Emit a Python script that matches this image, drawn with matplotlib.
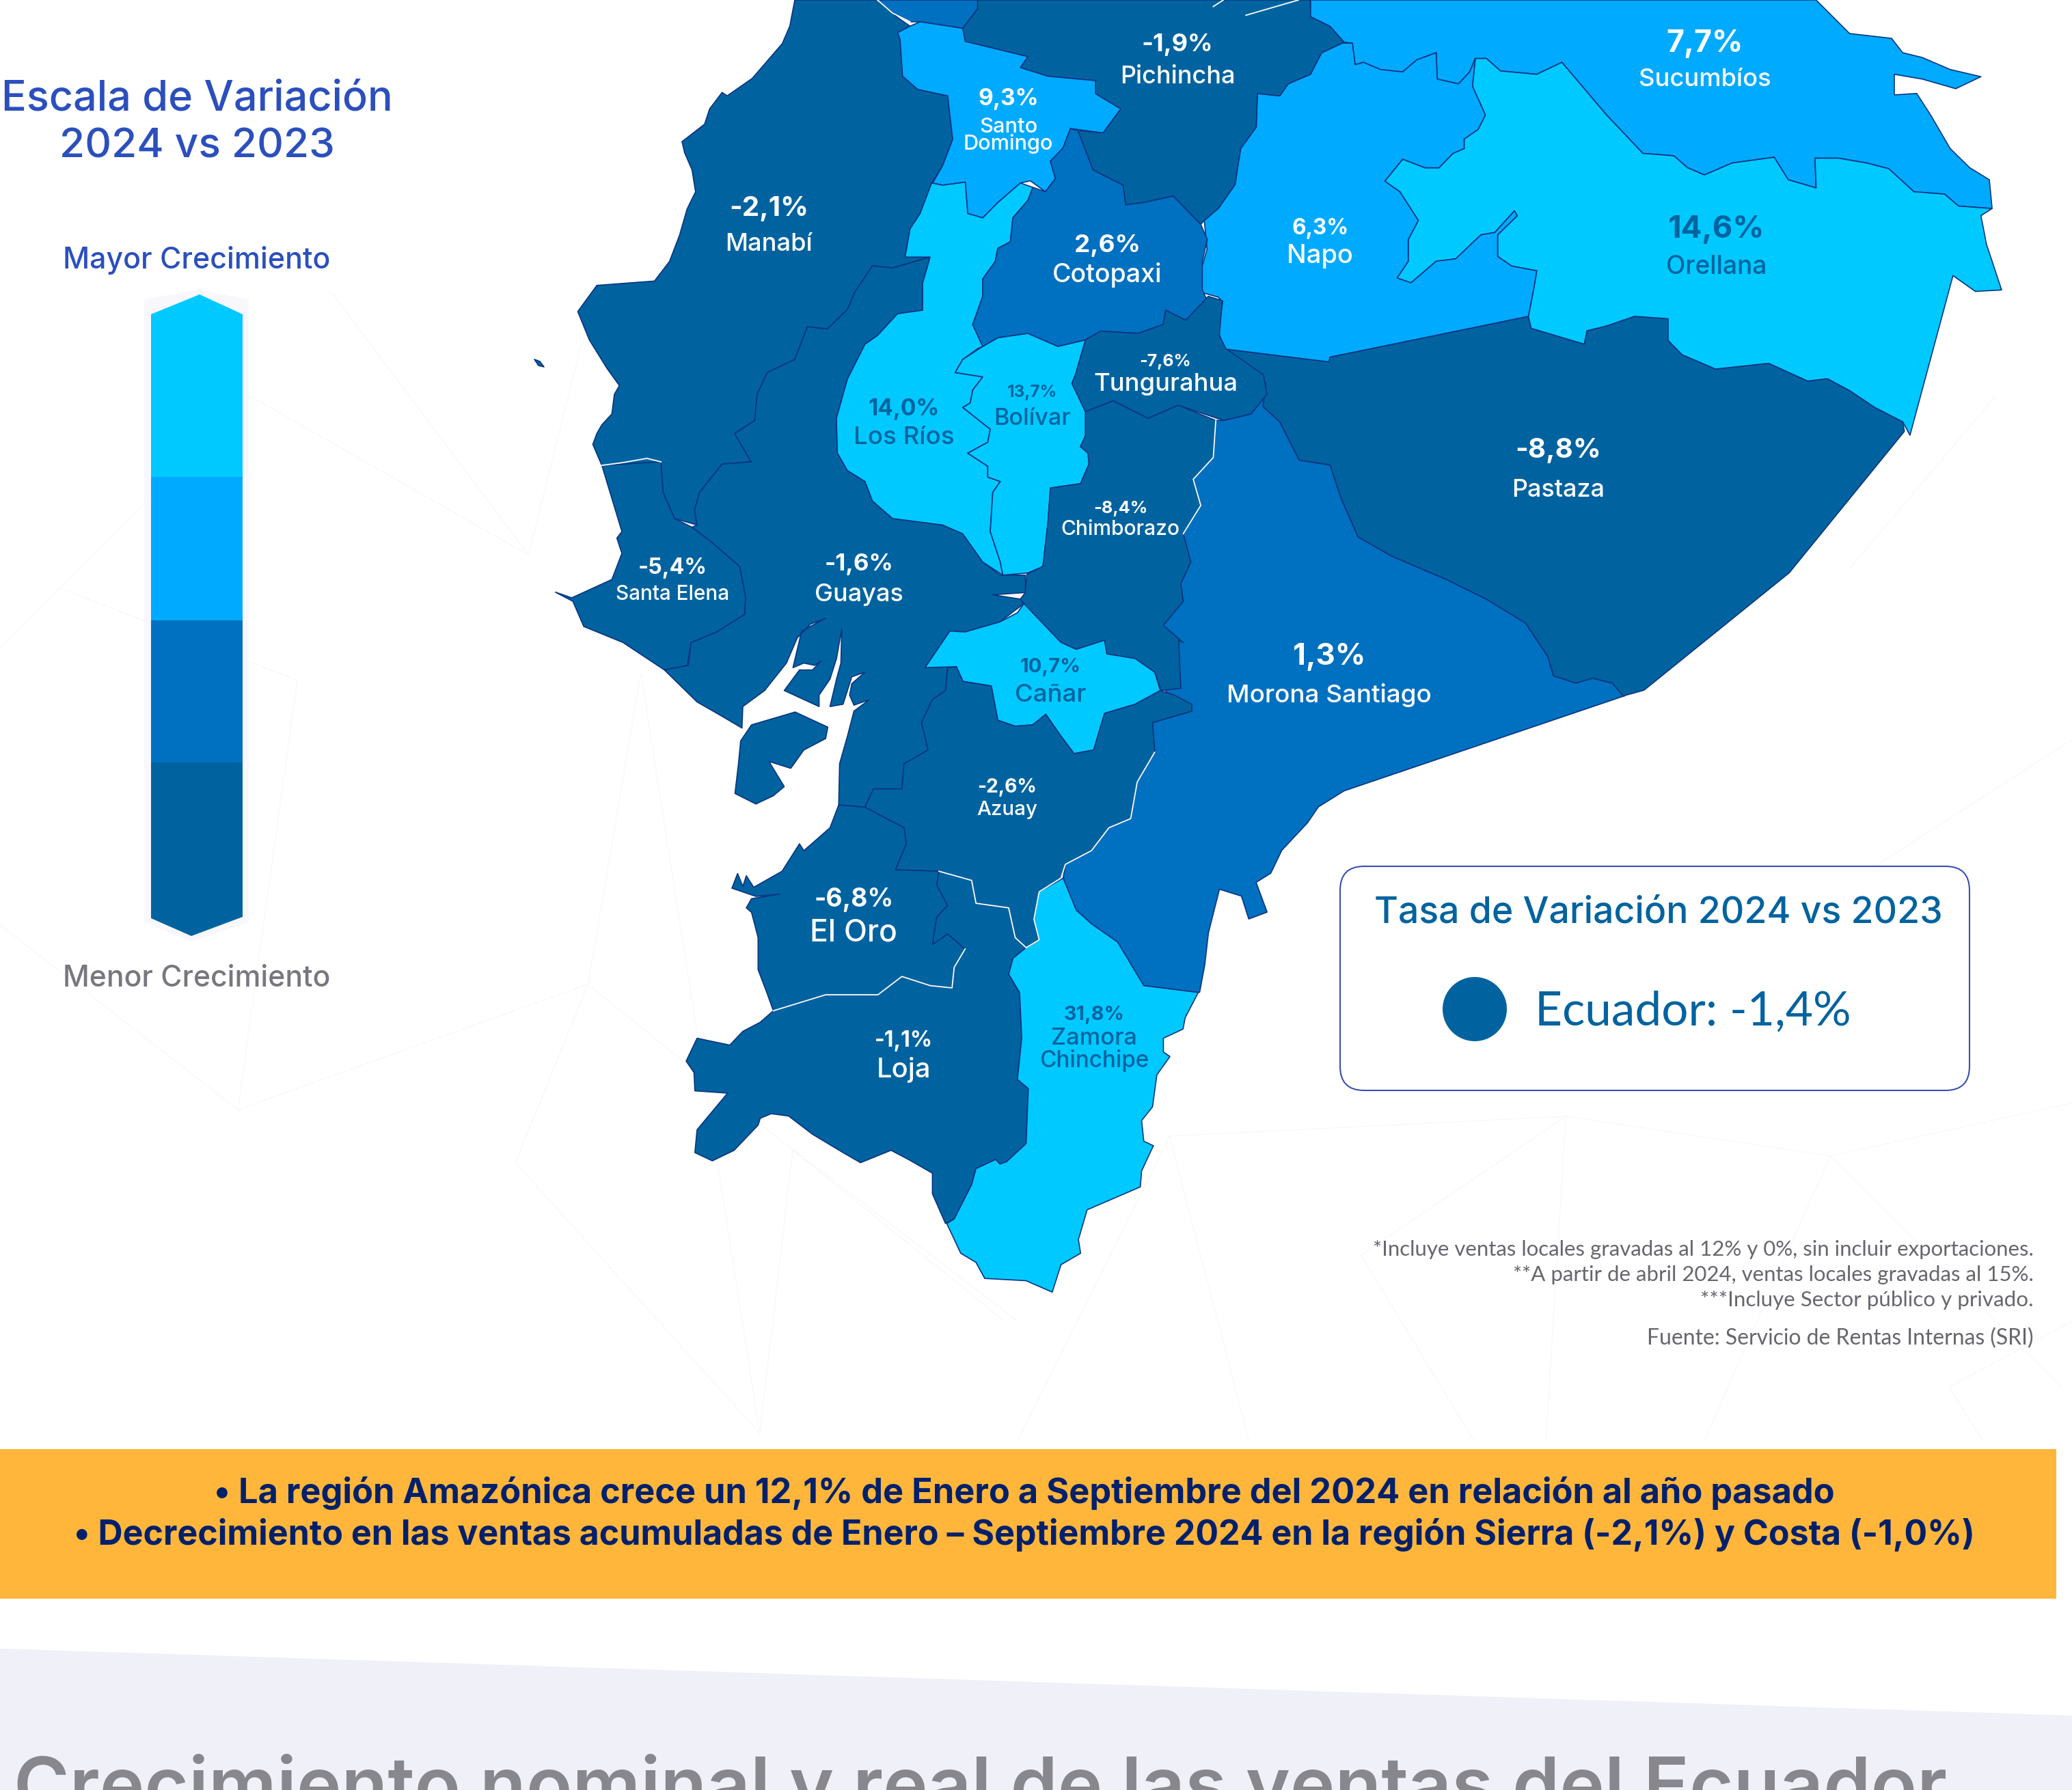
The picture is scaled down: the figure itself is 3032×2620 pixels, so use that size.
import matplotlib
matplotlib.use("Agg")
import matplotlib.pyplot as plt
from matplotlib.patches import Polygon, FancyBboxPatch, Circle

# ---------- data ----------
PROVINCES = ["Sucumbíos", "Orellana", "Pichincha", "Santo\nDomingo", "Manabí", "Cotopaxi", "Napo",
             "Tungurahua", "Los Ríos", "Bolívar", "Pastaza", "Chimborazo", "Santa Elena", "Guayas",
             "Morona Santiago", "Cañar", "Azuay", "El Oro", "Loja", "Zamora\nChinchipe"]
VALUES = [7.7, 14.6, -1.9, 9.3, -2.1, 2.6, 6.3, -7.6, 14.0, 13.7, -8.8, -8.4, -5.4, -1.6, 1.3,
          10.7, -2.6, -6.8, -1.1, 31.8]
NATIONAL = -1.4
SCALE_COLORS = ["#00c9ff", "#00aaff", "#0070c0", "#00639f"]
BORDER = "#0b3480"

def Z1(p): return [(800 + x * 1150 / 1568, y * 1000 / 1568) for x, y in p]
def Z2(p): return [(1750 + x * 1282 / 1568, y * 1100 / 1568) for x, y in p]
def Z3(p): return [(800 + x * 1000 / 1568, 850 + y * 1050 / 1568) for x, y in p]
def Z5(p): return [(1350 + x * 1682 / 1568, 950 + y * 1050 / 1568) for x, y in p]

OUTLINES = {
 "Morona Santiago": Z2([(120,848),(150,880),(185,960),(240,970),(260,1040),(290,1120),(350,1160),(450,1210),(520,1250),(590,1300),(630,1370),(640,1410),(680,1425),(710,1415),(745,1425),(765,1452)])
   + Z5([(958,102),(575,310),(540,345),(525,380),(490,440),(475,490),(455,510),(470,575),(445,590),(435,540),(405,525),(390,620),(385,690),(378,750)])
   + Z3([(1495,900),(1370,885),(1310,790),(1250,750),(1215,720),(1185,650),(1190,620),(1250,590),(1290,540),(1340,520),(1355,440),(1395,375),(1390,310),(1480,285),(1430,255),(1420,240),(1400,235),(1400,130)])
   + Z1([(1230,1435),(1270,1380),(1265,1340),(1285,1290),(1270,1225),(1305,1160),(1290,1100),(1330,1050),(1335,965),(1350,965),(1405,950),(1437,905)]),
 "Pastaza": Z2([(50,728),(238,755),(240,745),(595,660),(600,685),(695,718),(700,690),(735,680),(785,660),(845,665),(845,710),(870,740),(930,770),(1025,758),(1095,795),(1130,790),(1170,815),(1215,850),(1265,880),(1268,900),(1062,1195),(802,1440),(765,1452),(745,1425),(710,1415),(680,1425),(640,1410),(630,1370),(590,1300),(520,1250),(450,1210),(350,1160),(290,1120),(260,1040),(240,970),(185,960),(150,880),(120,848),(125,800),(85,760)]),
 "Sucumbíos": Z2([(205,0),(205,35),(240,55),(265,88),(280,90),(285,135),(300,130),(330,145),(370,150),(395,125),(430,110),(432,165),(470,175),(490,150),(500,122),(520,122),(545,148),(610,155),(655,130),(735,240),(800,320),(855,325),(880,350),(910,365),(960,340),(1035,328),(1060,375),(1110,392),(1108,330),(1150,330),(1200,340),(1240,352),(1285,400),(1340,405),(1365,430),(1425,435),(1420,375),(1385,350),(1350,310),(1315,240),(1290,195),(1250,198),(1250,155),(1300,165),(1360,185),(1405,160),(1350,145),(1300,120),(1265,110),(1245,80),(1170,70),(1110,0)]),
 "Orellana": Z2([(500,122),(520,122),(545,148),(610,155),(655,130),(735,240),(800,320),(855,325),(880,350),(910,365),(960,340),(1035,328),(1060,375),(1110,392),(1108,330),(1150,330),(1200,340),(1240,352),(1285,400),(1340,405),(1365,430),(1425,435),(1405,450),(1415,510),(1425,545),(1442,605),(1395,608),(1355,575),(1278,908),(1265,880),(1215,850),(1170,815),(1130,790),(1095,795),(1025,758),(930,770),(870,740),(845,710),(845,665),(785,660),(735,680),(700,690),(695,718),(600,685),(595,660),(605,600),(610,565),(565,555),(540,535),(540,490),(575,450),(570,440),(535,485),(510,490),(465,540),(430,545),(385,590),(360,580),(380,545),(380,500),(398,460),(365,400),(338,378),(370,332),(410,350),(435,350),(460,320),(480,310),(480,290),(505,270),(518,240),(495,180)]),
 "Napo": Z2([(110,195),(150,200),(165,175),(205,155),(225,110),(262,90),(280,90),(285,135),(300,130),(330,145),(370,150),(395,125),(430,110),(432,165),(470,175),(490,150),(500,122),(495,180),(518,240),(505,270),(480,290),(480,310),(460,320),(435,350),(410,350),(370,332),(338,378),(365,400),(398,460),(380,500),(380,545),(360,580),(385,590),(430,545),(465,540),(510,490),(535,485),(570,440),(575,450),(540,490),(540,535),(565,555),(610,565),(605,600),(595,660),(240,745),(238,755),(50,728),(40,690),(48,630),(40,620),(10,610),(10,560),(20,520),(15,460),(40,435),(70,385),(80,310),(108,265)]),
 "Top": Z1([(660,0),(690,30),(725,50),(745,50),(830,65),(860,20),(860,0)]),
 "Pichincha": Z1([(860,0),(860,20),(830,65),(835,95),(960,130),(945,155),(1000,175),(1095,185),(1095,215),(1145,250),(1110,305),(1060,300),(1090,390),(1150,425),(1155,470),(1190,465),(1250,450),(1305,515)])
   + Z2([(15,460),(40,435),(70,385),(80,310),(108,265),(110,195),(150,200),(165,175),(205,155),(225,110),(265,88),(240,55),(205,35),(205,0)]),
 "Manabí": Z1([(495,0),(485,60),(470,100),(440,140),(410,180),(360,220),(350,212),(325,250),(315,285),(270,325),(275,350),(290,390),(297,440),(280,480),(265,540),(245,600),(215,645),(100,655),(62,715),(85,780),(120,845),(145,885),(135,905),(130,950),(110,975),(100,995),(92,1020),(110,1068),(228,1060),(232,1130),(255,1190),(300,1205),(295,1170),(305,1130),(350,1065),(408,1060),(375,995),(415,965),(420,905),(440,855),(495,825),(520,750),(560,755),(600,710),(615,670),(650,610),(690,615),(765,590),(715,590),(725,525),(745,490),(768,420),(790,380),(810,320),(800,220),(740,205),(710,175),(705,90),(725,60),(700,40),(660,0)]),
 "Santa Elena": Z1([(110,1068),(228,1060),(232,1130),(255,1190),(290,1210),(330,1245),(385,1300),(397,1370),(395,1410),(340,1450),(288,1475),(280,1530)])
   + Z3([(325,185),(270,195),(175,135),(85,100),(60,45),(20,25)])
   + Z1([(50,1372),(130,1330),(150,1270),(140,1235),(150,1220)]),
 "Guayas": Z1([(765,590),(750,650),(750,712),(700,720),(660,770),(635,790),(600,870),(578,960),(580,1040),(600,1080),(635,1105),(650,1150),(690,1190),(790,1205),(830,1225),(870,1290),(905,1320),(955,1320),(955,1360),(890,1365),(945,1375)])
   + Z3([(1095,50),(1040,90),(960,112),(925,110),(868,190),(940,188),(920,190),(915,240),(885,260),(860,310),(875,370),(820,400),(815,455),(750,455),(730,495),(670,490),(672,400),(690,340),(705,285),(740,260),(705,272),(695,250),(700,225),(730,200),(700,210),(680,270),(650,275),(665,215),(675,180),(677,105),(665,170),(650,215),(625,250),(625,275),(545,240),(580,195),(610,195),(630,175),(615,185),(590,180),(565,190),(585,110),(640,82),(605,95),(575,125),(550,180),(500,240),(450,275),(448,322),(400,295),(345,265),(270,195),(325,185)])
   + Z1([(288,1475),(340,1450),(395,1410),(397,1370),(385,1300),(330,1245),(290,1210),(300,1205),(295,1170),(305,1130),(350,1065),(408,1060),(375,995),(415,965),(420,905),(440,855),(495,825),(520,750),(560,755),(600,710),(615,670),(650,610),(690,615)]),
 "Puná": Z3([(445,350),(470,315),(570,287),(645,320),(640,345),(590,370),(560,410),(510,395),(545,450),(520,470),(480,488),(432,465),(440,400)]),
 "Santo\nDomingo": Z1([(700,75),(725,60),(745,50),(830,65),(835,95),(960,130),(945,155),(1000,175),(1095,185),(1095,215),(1145,250),(1110,305),(1045,295),(1030,340),(1005,370),(1015,410),(995,440),(965,415),(945,420),(900,465),(870,500),(840,490),(835,418),(790,425),(770,420),(790,380),(810,320),(800,220),(740,205),(710,175),(705,90)]),
 "Los Ríos": Z1([(768,420),(790,425),(835,418),(840,490),(870,500),(900,465),(945,420),(970,430),(960,460),(930,500),(925,555),(900,570),(895,600),(870,640),(870,680),(850,745),(870,795),(860,800),(830,825),(815,855),(870,865),(850,895),(845,925),(830,935),(885,985),(880,1015),(840,1040),(880,1070),(880,1095),(905,1105),(890,1130),(885,1220),(905,1290),(910,1320),(870,1290),(830,1225),(790,1205),(690,1190),(650,1150),(635,1105),(600,1080),(580,1040),(578,960),(600,870),(635,790),(660,770),(700,720),(750,712),(750,650),(765,590),(715,590),(725,525),(745,490)]),
 "Bolívar": Z1([(870,795),(900,775),(960,765),(1020,795),(1075,780),(1055,860),(1048,880),(1075,945),(1075,1000),(1065,1025),(1080,1040),(1082,1065),(1065,1110),(1005,1120),(1000,1200),(990,1300),(960,1315),(910,1320),(905,1290),(885,1220),(890,1130),(905,1105),(880,1095),(880,1070),(840,1040),(880,1015),(885,985),(830,935),(845,925),(850,895),(870,865),(815,855),(830,825)]),
 "Cotopaxi": Z1([(1045,295),(1060,300),(1090,390),(1150,425),(1155,470),(1190,465),(1250,450),(1305,515),(1318,550),(1308,600),(1308,665),(1318,690),(1275,735),(1235,712),(1230,745),(1180,765),(1105,760),(1075,780),(1020,795),(960,765),(900,775),(870,795),(850,745),(870,680),(870,640),(895,600),(900,570),(925,555),(930,500),(960,460),(970,430),(995,440),(1015,410),(1005,370),(1030,340)]),
 "Tungurahua": Z1([(1075,780),(1105,760),(1180,765),(1230,745),(1235,712),(1275,735),(1320,680),(1348,690),(1342,770),(1355,800),(1430,860),(1437,905),(1405,950),(1350,965),(1260,930),(1200,960),(1130,920),(1075,945),(1048,880),(1055,860)]),
 "Chimborazo": Z1([(1075,945),(1130,920),(1200,960),(1260,930),(1335,965),(1330,1050),(1290,1100),(1305,1160),(1270,1225),(1285,1290),(1265,1340),(1270,1380),(1230,1435),(1270,1475)])
   + Z3([(1450,130),(1455,235),(1410,240),(1395,200),(1350,170),(1285,160),(1280,130),(1215,150),(1180,135),(1095,50)])
   + Z1([(945,1375),(955,1360),(958,1318),(990,1300),(1000,1200),(1005,1120),(1065,1110),(1082,1065),(1080,1040),(1065,1025),(1075,1000)]),
 "Cañar": Z3([(1095,50),(1180,135),(1215,150),(1280,130),(1285,160),(1350,170),(1395,200),(1408,240),(1350,270),(1280,290),(1255,370),(1210,378),(1180,340),(1145,292),(1115,315),(1075,318),(1035,305),(1020,230),(955,220),(940,188),(868,190),(925,110),(960,112),(1040,90),(1080,70)]),
 "Azuay": Z3([(940,188),(955,220),(1020,230),(1035,305),(1075,318),(1115,315),(1145,292),(1180,340),(1210,378),(1255,370),(1280,290),(1350,270),(1408,240),(1440,250),(1480,270),(1480,285),(1390,310),(1395,375),(1355,440),(1340,520),(1290,540),(1250,590),(1190,620),(1180,650),(1130,680),(1125,770),(1130,785),(1100,802),(1075,780),(1060,715),(985,705),(975,655),(900,635),(800,632),(825,575),(820,540),(730,495),(750,455),(815,455),(820,400),(875,370),(860,310),(885,260),(915,240),(920,190)]),
 "El Oro": Z3([(670,490),(730,495),(820,540),(825,575),(800,632),(900,635),(895,665),(920,710),(895,735),(885,795),(920,772),(960,805),(935,845),(930,890),(880,885),(815,865),(760,905),(640,905),(520,940),(505,900),(485,850),(485,780),(470,725),(458,715),(470,695),(535,685),(480,690),(425,672),(438,640),(450,668),(458,645),(475,670),(540,635),(580,575),(590,590),(650,540)]),
 "Loja": Z3([(520,940),(640,905),(760,905),(815,865),(880,885),(930,890),(935,845),(960,805),(920,772),(885,795),(895,735),(920,710),(895,665),(900,635),(975,655),(985,705),(1060,715),(1075,780),(1100,802),(1070,825),(1060,860),(1085,900),(1090,1000),(1080,1090),(1105,1110),(1100,1230),(1055,1270),(1040,1275),(1030,1265),(985,1285),(975,1320),(935,1395),(915,1405),(885,1340),(885,1295),(830,1265),(790,1245),(720,1272),(680,1250),(610,1210),(555,1170),(515,1165),(490,1175),(485,1190),(430,1245),(380,1268),(340,1250),(345,1200),(415,1120),(340,1115),(338,1075),(320,1050),(345,1000),(420,1015),(450,985),(490,965)]),
 "Zamora\nChinchipe": Z3([(1100,802),(1130,785),(1125,770),(1118,740),(1130,680),(1185,650),(1215,720),(1250,750),(1310,790),(1370,885),(1495,900),(1465,955),(1460,980),(1415,1000),(1415,1030),(1430,1040),(1400,1080),(1390,1150),(1365,1180),(1370,1225),(1392,1235),(1365,1290),(1362,1325),(1240,1375),(1220,1440),(1225,1470),(1180,1495),(1160,1555),(1100,1530),(1005,1525),(985,1490),(950,1470),(918,1405),(935,1395),(975,1320),(985,1285),(1030,1265),(1040,1275),(1055,1270),(1100,1230),(1105,1110),(1080,1090),(1090,1000),(1085,900),(1060,860),(1070,825)]),
 "Islet": [(782,526),(790,529),(796,537),(788,535)],
}
EXTRA_COLOR = {"Top": "#0070c0", "Puná": "#00639f", "Islet": "#00639f"}

WHITE_SEAMS = [
 Z3([(1395,375),(1355,440),(1340,520),(1290,540),(1250,590),(1190,620),(1180,650),(1130,680),(1118,740),(1130,785),(1100,802)]),
 Z3([(520,940),(640,905),(760,905),(815,865),(880,885),(930,890),(935,845),(960,805)]),
 Z3([(900,635),(975,655),(985,705),(1060,715),(1075,780),(1100,802)]),
 Z1([(110,1068),(150,1062),(200,1052),(228,1060)]),
 Z1([(1335,965),(1330,1050),(1290,1100),(1305,1160),(1270,1225)]),
 Z1([(660,0),(690,30),(725,50)]),
 Z1([(1330,15),(1350,0)]), Z1([(1395,35),(1500,0)]),
]

BACKDROP = [((400,420),(250,220)),((400,420),(440,260)),((400,420),(190,300)),((45,445),(0,490)),((45,445),(225,515)),
 ((190,300),(45,445)),((445,745),(760,1000)),((445,745),(390,880)),((390,880),(575,1085)),((575,1085),(600,870)),
 ((885,860),(1185,845)),((1185,845),(1385,875)),((885,860),(945,1090)),((885,860),(770,1090)),((1185,845),(1170,1090)),
 ((1185,845),(1030,950)),((1030,950),(1115,1090)),((1385,875),(1568,835)),((1385,875),(1290,1090)),((1385,875),(1560,1050)),
 ((1475,1050),(1568,1000)),((1475,1050),(1500,1090)),((445,745),(180,840)),((445,745),(485,510)),((485,510),(575,1085)),
 ((180,840),(0,700)),((225,515),(180,840)),((1350,700),(1568,560)),((1510,300),(1400,430)),((600,870),(770,1000))]

# ---------- layout ----------
fig = plt.figure(figsize=(30.32, 26.2), dpi=100, facecolor="white")
ax = fig.add_axes([0, 0, 1, 1])
ax.set_xlim(0, 3032); ax.set_ylim(2620, 0); ax.axis("off")
S = 3032 / 1568
rend = fig.canvas.get_renderer()
plt.rcParams["font.family"] = ["Inter", "DejaVu Sans"]

def fit(s, cx, cy, w, color, weight="medium", ha="center", family="Inter", va="center", z=10):
    """place text (display-scale coordinates) scaled to a target width"""
    t = ax.text(cx * S, (cy + 2) * S, s, ha=ha, va=va, color=color, fontsize=20, fontweight=weight,
                family=[family, "DejaVu Sans"], zorder=z)
    t.set_fontsize(20 * w * S / t.get_window_extent(rend).width)
    return t

def klass(v):
    return SCALE_COLORS[0] if v >= 10 else SCALE_COLORS[1] if v >= 5 else SCALE_COLORS[2] if v >= 0 else SCALE_COLORS[3]

# backdrop
for a, b in BACKDROP:
    ax.plot([a[0]*S, b[0]*S], [a[1]*S, b[1]*S], color="#f8f8fb", lw=0.9, zorder=0)
ax.add_patch(Polygon([(0, 2413), (3032, 2511), (3032, 2620), (0, 2620)], fc="#eff0f8", ec="none", zorder=1))

# map
val = dict(zip(PROVINCES, VALUES))
for name, pts in OUTLINES.items():
    fc = EXTRA_COLOR.get(name) or klass(val[name])
    ax.add_patch(Polygon(pts, closed=True, fc=fc, ec=BORDER, lw=1.2, joinstyle="round", zorder=3))
for seam in WHITE_SEAMS:
    ax.plot(*zip(*seam), color="white", lw=1.3, zorder=4, solid_joinstyle="round")

# province labels: centre x, value y, value width, then name y/width per line
LABELS = {
 "Sucumbíos": (1290,31,58,[(58,100)]), "Orellana": (1299,172,73,[(200,76)]), "Pichincha": (891,32,54,[(56,87)]),
 "Santo\nDomingo": (763,73,46,[(94,44),(107,68)]), "Manabí": (582,156,60,[(183,66)]), "Cotopaxi": (838,184,50,[(206,83)]),
 "Napo": (999,171,43,[(192,50)]), "Tungurahua": (882,272,39,[(289,109)]), "Los Ríos": (684,308,54,[(329,76)]),
 "Bolívar": (781,295,38,[(315,58)]), "Pastaza": (1179,339,65,[(369,70)]), "Chimborazo": (848,383,41,[(399,90)]),
 "Santa Elena": (509,428,52,[(448,86)]), "Guayas": (650,425,52,[(448,67)]), "Morona Santiago": (1006,495,55,[(524,155)]),
 "Cañar": (795,503,46,[(524,54)]), "Azuay": (762,594,45,[(611,46)]), "El Oro": (646,679,60,[(704,66)]),
 "Loja": (684,786,44,[(808,41)]), "Zamora\nChinchipe": (828,766,46,[(784,65),(801,83)]),
}
for name, v in zip(PROVINCES, VALUES):
    cx, vy, vw, lines = LABELS[name]
    tc = "#00639f" if v >= 10 else "white"
    fit(f"{v:.1f}%".replace(".", ","), cx, vy, vw, tc, weight="bold")
    for part, (ly, lw) in zip(name.split("\n"), lines):
        fit(part, cx, ly, lw, tc, weight="medium")

# scale bar
halo = [(211, 438), (292, 424), (364, 438), (364, 1350), (280, 1378), (211, 1350)]
ax.add_patch(Polygon(halo, fc="#f8f7fc", ec="none", zorder=2))
SPLITS = [698, 908, 1116]
ax.add_patch(Polygon([(221, 460), (292, 431), (355, 460), (355, SPLITS[0]), (221, SPLITS[0])], fc=SCALE_COLORS[0], ec="none", zorder=3))
ax.add_patch(Polygon([(221, SPLITS[0]), (355, SPLITS[0]), (355, SPLITS[1]), (221, SPLITS[1])], fc=SCALE_COLORS[1], ec="none", zorder=3))
ax.add_patch(Polygon([(221, SPLITS[1]), (355, SPLITS[1]), (355, SPLITS[2]), (221, SPLITS[2])], fc=SCALE_COLORS[2], ec="none", zorder=3))
ax.add_patch(Polygon([(221, SPLITS[2]), (355, SPLITS[2]), (355, 1342), (280, 1370), (221, 1344)], fc=SCALE_COLORS[3], ec="none", zorder=3))
fit("Escala de Variación", 149, 73, 296, "#2b4fbd", weight="medium")
fit("2024 vs 2023", 149, 109, 208, "#2b4fbd", weight="medium")
fit("Mayor Crecimiento", 149, 195, 202, "#2b4fbd", weight="medium")
fit("Menor Crecimiento", 149, 739, 202, "#77777f", weight="medium")

# national box
ax.add_patch(FancyBboxPatch((1961 + 35, 1268 + 35), 851, 258, boxstyle="round,pad=35,rounding_size=35",
                            fc="white", ec="#3b50b5", lw=1.5, zorder=3))
fit("Tasa de Variación 2024 vs 2023", 1255, 689, 430, "#00639f", weight="medium")
ax.add_patch(Circle((2158, 1477), 47, fc="#00639f", ec="none", zorder=5))
fit(f"Ecuador: {NATIONAL:.1f}%".replace(".", ","), 1281, 764, 240, "#00639f", weight="normal", family="Lato")

# notes
NOTES = [("*Incluye ventas locales gravadas al 12% y 0%, sin incluir exportaciones.", 944, 501),
         ("**A partir de abril 2024, ventas locales gravadas al 15%.", 963, 394),
         ("***Incluye Sector público y privado.", 982, 253),
         ("Fuente: Servicio de Rentas Internas (SRI)", 1011, 293)]
for s, y, w in NOTES:
    fit(s, 1539, y, w, "#66666c", weight="normal", ha="right", family="Lato")

# banner
ax.add_patch(Polygon([(0, 2121), (3009, 2121), (3009, 2340), (0, 2340)], fc="#ffb63b", ec="none", zorder=2))
fit("• La región Amazónica crece un 12,1% de Enero a Septiembre del 2024 en relación al año pasado",
    775, 1128, 1229, "#00206b", weight="bold")
fit("• Decrecimiento en las ventas acumuladas de Enero – Septiembre 2024 en la región Sierra (-2,1%) y Costa (-1,0%)",
    775, 1160, 1440, "#00206b", weight="bold")

# clipped heading
fit("Crecimiento nominal y real de las ventas del Ecuador", 742, 2651 / S - 2, 1465, "#87878d", weight="semibold", va="baseline")

fig.savefig("out.png", dpi=100, facecolor="white")
